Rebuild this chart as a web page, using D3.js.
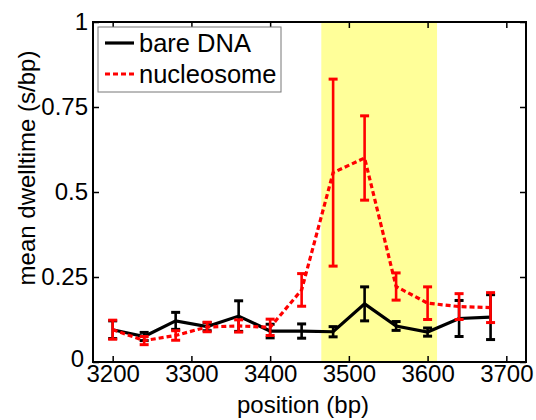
<!DOCTYPE html>
<html><head><meta charset="utf-8">
<script src="https://cdn.jsdelivr.net/npm/d3@7"></script>
<style>body{margin:0;background:#fff}svg{display:block}</style>
</head><body>
<script>
const positions = [3200,3240,3280,3320,3360,3400,3440,3480,3520,3560,3600,3640,3680];
const bareMean = [0.095,0.075,0.121,0.104,0.135,0.091,0.091,0.089,0.171,0.106,0.088,0.128,0.132];
const bareErr  = [0.026,0.012,0.025,0.012,0.045,0.02,0.021,0.015,0.05,0.013,0.012,0.053,0.066];
const nucMean  = [0.095,0.063,0.078,0.103,0.106,0.102,0.212,0.557,0.600,0.222,0.173,0.163,0.160];
const nucErr   = [0.028,0.012,0.014,0.014,0.018,0.024,0.048,0.275,0.124,0.04,0.048,0.038,0.044];
const band = [3465, 3612];
const xTicks = [3200,3300,3400,3500,3600,3700];
const xTickLabels = ["3200","3300","3400","3500","3600","3700"];
const yTicks = [0,0.25,0.5,0.75,1];
const yTickLabels = ["0","0.25","0.5","0.75","1"];
const seriesNames = ["bare DNA","nucleosome"];

const W=536,H=420;
const m={l:93,r:10,t:22,b:58};
const svg=d3.select("body").append("svg").attr("width",W).attr("height",H);
const x=d3.scaleLinear().domain([3175,3725]).range([m.l,W-m.r]);
const y=d3.scaleLinear().domain([0,1]).range([H-m.b,m.t]);
const font="'Liberation Sans', Arial, sans-serif";

svg.append("rect").attr("x",x(band[0])).attr("y",m.t).attr("width",x(band[1])-x(band[0])).attr("height",y(0)-y(1)).attr("fill","#ffff99");

function drawSeries(mean,err,color,dash){
  const data=positions.map((p,i)=>({p,v:mean[i],e:err[i]}));
  const g=svg.append("g");
  g.append("path").datum(data).attr("fill","none").attr("stroke",color).attr("stroke-width",3.2)
   .attr("stroke-dasharray",dash||null)
   .attr("d",d3.line().x(d=>x(d.p)).y(d=>y(d.v)));
  const eb=g.selectAll("g.eb").data(data).join("g");
  eb.append("line").attr("x1",d=>x(d.p)).attr("x2",d=>x(d.p)).attr("y1",d=>y(d.v-d.e)).attr("y2",d=>y(d.v+d.e)).attr("stroke",color).attr("stroke-width",2.6);
  eb.append("line").attr("x1",d=>x(d.p)-4.5).attr("x2",d=>x(d.p)+4.5).attr("y1",d=>y(d.v-d.e)).attr("y2",d=>y(d.v-d.e)).attr("stroke",color).attr("stroke-width",3);
  eb.append("line").attr("x1",d=>x(d.p)-4.5).attr("x2",d=>x(d.p)+4.5).attr("y1",d=>y(d.v+d.e)).attr("y2",d=>y(d.v+d.e)).attr("stroke",color).attr("stroke-width",3);
}
drawSeries(bareMean,bareErr,"#000",null);
drawSeries(nucMean,nucErr,"#ff0000","5,3");

// axes
const xb=svg.append("g").attr("transform",`translate(0,${y(0)})`).call(d3.axisBottom(x).tickValues(xTicks).tickSizeInner(-6).tickSizeOuter(0).tickFormat((d,i)=>xTickLabels[i]));
const xt=svg.append("g").attr("transform",`translate(0,${y(1)})`).call(d3.axisTop(x).tickValues(xTicks).tickSizeInner(-6).tickSizeOuter(0).tickFormat(""));
const yl=svg.append("g").attr("transform",`translate(${m.l},0)`).call(d3.axisLeft(y).tickValues(yTicks).tickSizeInner(-6).tickSizeOuter(0).tickPadding(5).tickFormat((d,i)=>yTickLabels[i]));
const yr=svg.append("g").attr("transform",`translate(${W-m.r},0)`).call(d3.axisRight(y).tickValues(yTicks).tickSizeInner(-6).tickSizeOuter(0).tickFormat(""));
[xb,xt,yl,yr].forEach(g=>{g.select(".domain").remove();g.selectAll(".tick line").attr("stroke","#000").attr("stroke-width",1.5);
  g.selectAll("text").attr("font-family",font).attr("font-size",24).attr("fill","#000");});
xb.selectAll(".tick text").attr("y",3).attr("dy","0.71em");
yl.selectAll(".tick text").filter((d)=>d===0).attr("x",-9).attr("dy","0.2em");
svg.append("rect").attr("x",m.l).attr("y",m.t).attr("width",W-m.r-m.l).attr("height",y(0)-y(1)).attr("fill","none").attr("stroke","#000").attr("stroke-width",2);

svg.append("text").attr("x",303).attr("y",413).attr("text-anchor","middle").attr("font-family",font).attr("font-size",24).text("position (bp)");
svg.append("text").attr("transform",`translate(35,168) rotate(-90)`).attr("text-anchor","middle").attr("font-family",font).attr("font-size",24).text("mean dwelltime (s/bp)");

// legend
const lg=svg.append("g");
lg.append("rect").attr("x",98).attr("y",27).attr("width",183).attr("height",65).attr("fill","#fff").attr("stroke","#777").attr("stroke-width",1);
[["#000",null],["#ff0000","5,3"]].forEach((s,i)=>{
  const cy=43+i*31;
  lg.append("line").attr("x1",105).attr("x2",134).attr("y1",cy).attr("y2",cy).attr("stroke",s[0]).attr("stroke-width",3.2).attr("stroke-dasharray",s[1]);
  lg.append("text").attr("x",139).attr("y",cy+9).attr("font-family",font).attr("font-size",25.5).text(seriesNames[i]);
});
</script>
</body></html>
